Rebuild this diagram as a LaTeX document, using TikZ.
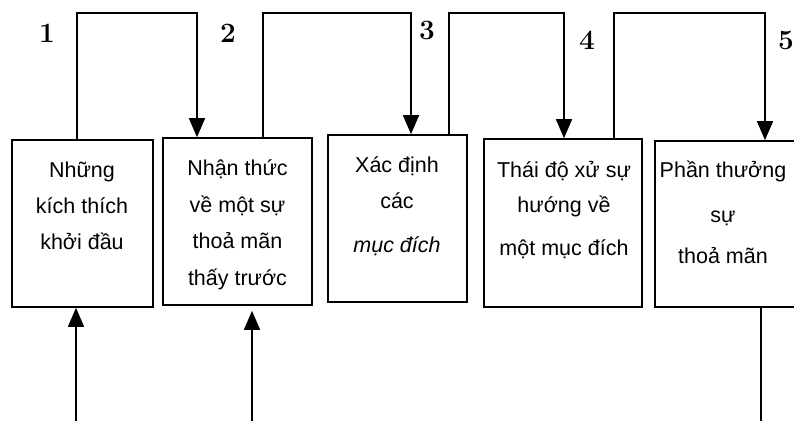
\documentclass[tikz,border=0pt]{standalone}
\usepackage{fontspec}
\newfontfamily\arialf{Liberation Sans}
\usetikzlibrary{arrows.meta}
\begin{document}
\begin{tikzpicture}[x=1pt,y=1pt,
  every path/.style={line width=1.5pt},
  box/.style={draw,line width=1.6pt,rectangle,inner sep=0pt},
  txt/.style={font=\arialf\fontsize{21.5}{26}\selectfont,anchor=base,inner sep=0pt},
  num/.style={font=\bfseries\fontsize{28}{32}\selectfont,inner sep=0pt},
  arr/.style={-{Triangle[width=16pt,length=19pt]}},
  link/.style={line width=1.5pt,arr}]
\useasboundingbox (0,0) rectangle (794,-421);
% boxes
\node[box,minimum width=141pt,minimum height=167pt] (b1) at (82.5,-223.5) {};
\node[box,minimum width=149pt,minimum height=167pt] (b2) at (237.5,-221.5) {};
\node[box,minimum width=139pt,minimum height=167pt] (b3) at (397.5,-218.5) {};
\node[box,minimum width=158pt,minimum height=168pt] (b4) at (563,-223) {};
\node[box,minimum width=160pt,minimum height=166pt] (b5) at (735,-224) {};
% texts
\node[txt] (t11) at (82,-177) {Những};
\node[txt] (t12) at (82,-213) {kích thích};
\node[txt] (t13) at (82,-249) {khởi đầu};
\node[txt] (t21) at (237.5,-175) {Nhận thức};
\node[txt] (t22) at (237.5,-212) {về một sự};
\node[txt] (t23) at (237.5,-248) {thoả mãn};
\node[txt] (t24) at (237.5,-285) {thấy trước};
\node[txt] (t31) at (397,-172) {Xác định};
\node[txt] (t32) at (397,-208) {các};
\node[txt,font=\arialf\itshape\fontsize{21.5}{26}\selectfont] (t33) at (397,-252) {mục đích};
\node[txt] (t41) at (564,-177) {Thái độ xử sự};
\node[txt] (t42) at (564,-212) {hướng về};
\node[txt] (t43) at (564,-255) {một mục đích};
\node[txt] (t51) at (723,-177) {Phần thưởng};
\node[txt] (t52) at (723,-222) {sự};
\node[txt] (t53) at (723,-263) {thoả mãn};
% numbers
\node[num] (n1) at (47,-33) {1};
\node[num] (n2) at (228,-33) {2};
\node[num] (n3) at (427,-30) {3};
\node[num] (n4) at (587,-40) {4};
\node[num] (n5) at (786,-40) {5};
% top connectors
\draw[link] (77,0 |- b1.north) -- (77,-13) -- (197,-13) -- (197,0 |- b2.north);
\draw[link] (263,0 |- b2.north) -- (263,-13) -- (411,-13) -- (411,0 |- b3.north);
\draw[link] (449,0 |- b3.north) -- (449,-13) -- (564,-13) -- (564,0 |- b4.north);
\draw[link] (614,0 |- b4.north) -- (614,-13) -- (765,-13) -- (765,0 |- b5.north);
% bottom connectors
\coordinate (f1) at (76,-421);
\coordinate (f2) at (252,-421);
\coordinate (f5) at (761,-421);
\draw[link] (f1) -- (f1 |- b1.south);
\draw[link] (f2) -- ([yshift=-5pt]f2 |- b2.south);
\draw (f5 |- b5.south) -- (f5);
\end{tikzpicture}
\end{document}
